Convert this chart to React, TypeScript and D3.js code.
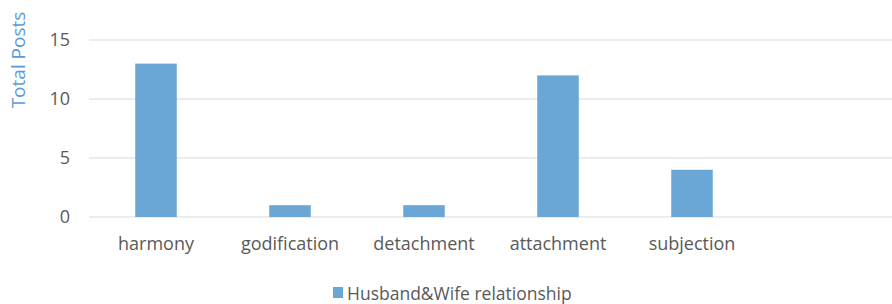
import * as d3 from 'd3';
import { useEffect, useRef } from 'react';

const categories = ['harmony', 'godification', 'detachment', 'attachment', 'subjection'];
const values = [13, 1, 1, 12, 4];
const yTicks = [0, 5, 10, 15];
const seriesName = 'Husband&Wife relationship';

export default function App() {
    const ref = useRef<any>();

    useEffect(() => {
        const width = 892;
        const height = 304;
        const margin = { top: 40, right: 0, bottom: 87, left: 89 };
        const barColor = '#6aa6d6';
        const textColor = '#595959';
        const font = '"Open Sans", sans-serif';

        const svg = d3.select<any, any>(ref.current)
            .attr('width', width)
            .attr('height', height)
            .style('display', 'block')
            .style('font-family', font);
        svg.selectAll('*').remove();

        // one empty slot on the right, like the original
        const xScale = d3.scaleBand()
            .domain([...categories, ''])
            .range([margin.left, width + 1])
            .paddingInner(0.69)
            .paddingOuter(0.345);
        const yScale = d3.scaleLinear()
            .domain([0, 15])
            .range([height - margin.bottom, margin.top]);

        //gridlines
        svg.append('g').selectAll('line').data(yTicks).join('line')
            .attr('x1', margin.left)
            .attr('x2', width)
            .attr('y1', d => yScale(d))
            .attr('y2', d => yScale(d))
            .attr('stroke', '#d9d9d9')
            .attr('stroke-width', 1.2);

        //y tick labels
        svg.append('g').selectAll('text').data(yTicks).join('text')
            .attr('x', 70)
            .attr('y', d => yScale(d))
            .attr('dy', '0.36em')
            .attr('text-anchor', 'end')
            .attr('fill', textColor)
            .style('font-size', '18px')
            .text(d => d);

        //bars
        svg.append('g').selectAll('rect').data(values).join('rect')
            .attr('x', (d, i) => xScale(categories[i]) as number)
            .attr('y', d => yScale(d))
            .attr('width', xScale.bandwidth())
            .attr('height', d => yScale(0) - yScale(d))
            .attr('fill', barColor);

        //category labels
        svg.append('g').selectAll('text').data(categories).join('text')
            .attr('x', d => (xScale(d) as number) + xScale.bandwidth() / 2)
            .attr('y', yScale(0) + 33)
            .attr('text-anchor', 'middle')
            .attr('fill', textColor)
            .style('font-size', '18px')
            .text(d => d);

        //axis title
        svg.append('text')
            .attr('transform', `translate(25, 60) rotate(-90)`)
            .attr('text-anchor', 'middle')
            .attr('fill', '#5b9bd5')
            .style('font-size', '19px')
            .text('Total Posts');

        //legend
        const legend = svg.append('g').attr('transform', 'translate(333, 287)');
        legend.append('rect')
            .attr('width', 10)
            .attr('height', 11)
            .attr('fill', barColor);
        legend.append('text')
            .attr('x', 14)
            .attr('y', 13)
            .attr('fill', textColor)
            .style('font-size', '17.5px')
            .text(seriesName);
    }, []);

    return (
        <div style={{ position: 'absolute', left: 0, top: 0 }}>
            <svg ref={ref}></svg>
        </div>
    );
}
